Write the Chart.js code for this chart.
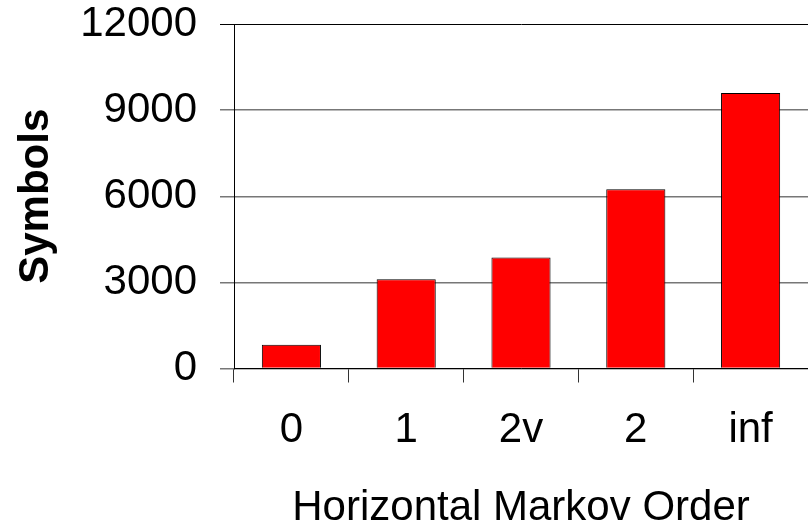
<!DOCTYPE html>
<html>
<head>
<meta charset="utf-8">
<script src="https://cdn.jsdelivr.net/npm/chart.js@4.4.1/dist/chart.umd.min.js"></script>
<style>
  body { margin: 0; background: #fff; }
  #wrap { width: 808px; height: 522px; }
</style>
</head>
<body>
<div id="wrap"><canvas id="markovChart"></canvas></div>
<script>
const orders = ["0", "1", "2v", "2", "inf"];
const symbolCounts = [830, 3110, 3870, 6240, 9600];
const yTicks = [0, 3000, 6000, 9000, 12000];

Chart.defaults.font.family = "'Liberation Sans', Arial, sans-serif";
Chart.defaults.color = "#000";

const ctx = document.getElementById("markovChart").getContext("2d");
new Chart(ctx, {
  type: "bar",
  data: {
    labels: orders,
    datasets: [
      {
        label: "Symbols",
        data: symbolCounts,
        backgroundColor: "#ff0000",
        borderColor: "#000",
        borderWidth: 1,
        barPercentage: 0.515,
        categoryPercentage: 1,
      },
    ],
  },
  options: {
    responsive: true,
    maintainAspectRatio: false,
    animation: false,
    layout: { padding: 0 },
    plugins: {
      legend: { display: false },
      tooltip: { enabled: false },
    },
    scales: {
      x: {
        grid: {
          drawOnChartArea: false,
          tickLength: 14,
          color: "#333",
          offset: true,
        },
        border: { color: "#000" },
        ticks: { font: { size: 42 }, padding: 23 },
        title: {
          display: true,
          text: "Horizontal Markov Order",
          font: { size: 42, lineHeight: 0.667 },
          padding: { top: 30, bottom: 0 },
        },
        afterFit: (scale) => {
          scale.height = 153.5;
        },
      },
      y: {
        min: 0,
        max: 12000,
        afterBuildTicks: (scale) => {
          scale.ticks = yTicks.map((v) => ({ value: v }));
        },
        grid: {
          tickLength: 14,
          color: (c) => (c.tick && c.tick.value === 12000 ? "#000" : "#777"),
          lineWidth: (c) => (c.tick && c.tick.value === 12000 ? 1 : 1.5),
        },
        border: { color: "#000" },
        ticks: {
          font: { size: 42 },
          padding: 23,
          callback: (v) => String(v),
        },
        title: {
          display: true,
          text: "Symbols",
          font: { size: 42, weight: "bold" },
          padding: { top: 11, bottom: 0 },
        },
        afterFit: (scale) => {
          // keep the plot top close to the 12000 label
          scale.width = 234;
          scale.paddingTop = 24;
        },
      },
    },
  },
});
</script>
</body>
</html>
